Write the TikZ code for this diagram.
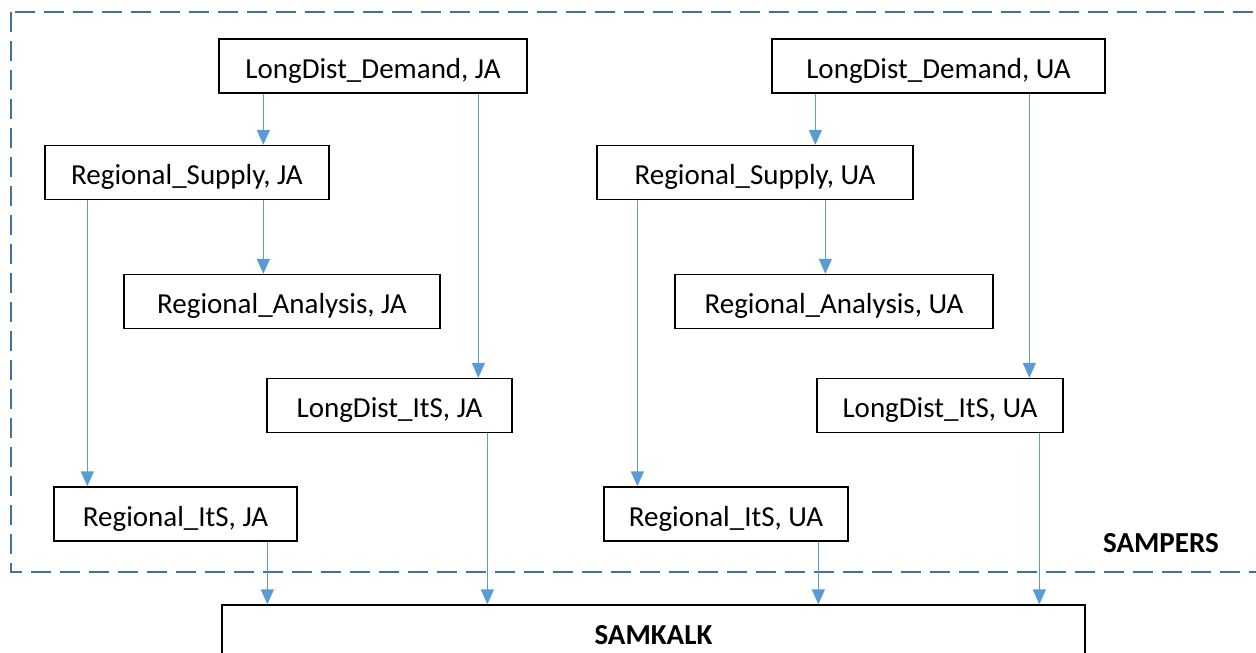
\documentclass[tikz,border=0pt]{standalone}
\usepackage{fontspec}
\setmainfont{Carlito}
\usetikzlibrary{arrows.meta}
\definecolor{flowblue}{HTML}{5B9BD5}
\definecolor{frameblue}{HTML}{41719C}
\begin{document}
\begin{tikzpicture}[x=1pt,y=-1pt]
      \useasboundingbox (0,0) rectangle (1256,653);

      \draw[frameblue, line width=2.5pt, dash pattern=on 20pt off 9pt] (11,12) rectangle (1290,572);
      \node[font=\fontsize{29}{34}\selectfont\bfseries] (sampers) at (1161,543) {SAMPERS};

      \begin{scope}[every node/.style={draw, line width=1.3pt, minimum height=54pt, inner sep=0pt, text height=27pt, text depth=3pt, font=\fontsize{29}{34}\selectfont}]
        \node[minimum width=308pt] (1)  at (373,66)    {LongDist\_Demand, JA};
        \node[minimum width=284pt] (2)  at (187,172.5) {Regional\_Supply, JA};
        \node[minimum width=316pt] (3)  at (282,301.5) {Regional\_Analysis, JA};
        \node[minimum width=245pt] (4)  at (389.5,405.5) {LongDist\_ItS, JA};
        \node[minimum width=243pt] (5)  at (175.5,514) {Regional\_ItS, JA};
        \node[minimum width=333pt] (6)  at (938.5,66)  {LongDist\_Demand, UA};
        \node[minimum width=316pt] (7)  at (755,172.5) {Regional\_Supply, UA};
        \node[minimum width=318pt] (8)  at (834,301.5) {Regional\_Analysis, UA};
        \node[minimum width=246pt] (9)  at (940,405.5) {LongDist\_ItS, UA};
        \node[minimum width=244pt] (10) at (726,514)   {Regional\_ItS, UA};
        \node[minimum width=863pt, minimum height=54pt, font=\fontsize{29}{34}\selectfont\bfseries] (11) at (653.5,632) {SAMKALK};
      \end{scope}

      \begin{scope}[every edge/.style={draw, flowblue, line width=1.5pt, -{Triangle[width=13pt,length=15pt]}}]
        \path ([xshift=45pt]1.south west)  edge ([xshift=219pt]2.north west);
        \path ([xshift=260pt]1.south west) edge ([xshift=212pt]4.north west);
        \path ([xshift=43pt]2.south west)  edge ([xshift=34pt]5.north west);
        \path ([xshift=219pt]2.south west) edge ([xshift=140pt]3.north west);
        \path ([xshift=221pt]4.south west) edge ([xshift=266pt]11.north west);
        \path ([xshift=214pt]5.south west) edge ([xshift=46pt]11.north west);
        \path ([xshift=44pt]6.south west)  edge ([xshift=219pt]7.north west);
        \path ([xshift=258pt]6.south west) edge ([xshift=213pt]9.north west);
        \path ([xshift=41pt]7.south west)  edge ([xshift=34pt]10.north west);
        \path ([xshift=229pt]7.south west) edge ([xshift=151pt]8.north west);
        \path ([xshift=223pt]9.south west) edge ([xshift=818pt]11.north west);
        \path ([xshift=215pt]10.south west) edge ([xshift=597pt]11.north west);
      \end{scope}

    \end{tikzpicture}
\end{document}
